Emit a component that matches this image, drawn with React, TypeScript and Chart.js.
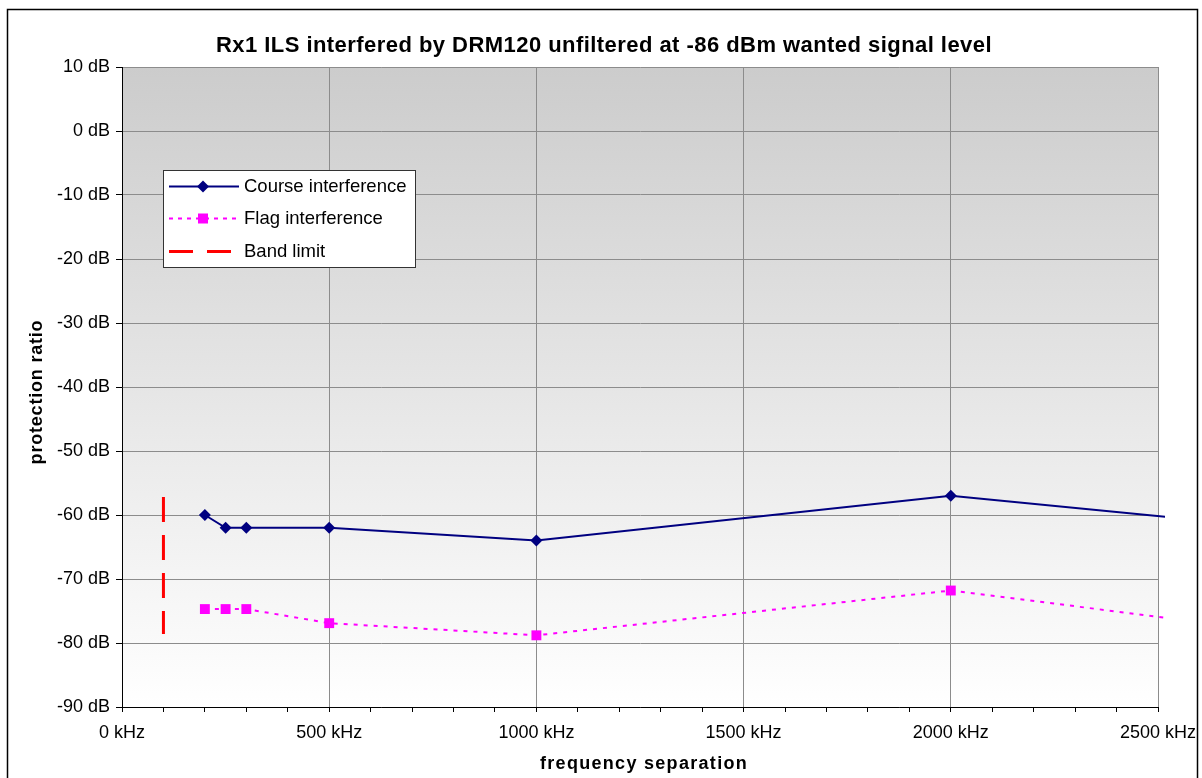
import React, { useEffect, useRef } from "react";
import { Chart, registerables } from "chart.js";

Chart.register(...registerables);

const TITLE = "Rx1 ILS interfered by DRM120 unfiltered at -86 dBm wanted signal level";
const X_TITLE = "frequency separation";
const Y_TITLE = "protection ratio";

const courseFreq = [200, 250, 300, 500, 1000, 2000, 3000];
const courseValues = [-60, -62, -62, -62, -64, -57, -63.3];

const flagFreq = [200, 250, 300, 500, 1000, 2000, 3000];
const flagValues = [-74.7, -74.7, -74.7, -76.9, -78.8, -71.8, -80];

const bandFreq = [100, 100];
const bandValues = [-57.2, -78.6];

const seriesNames = ["Course interference", "Flag interference", "Band limit"];

const X_MIN = 0;
const X_MAX = 2500;
const Y_MIN = -90;
const Y_MAX = 10;

const FONT = "'Liberation Sans', Arial, sans-serif";

const toPoints = (xs: number[], ys: number[]) => xs.map((x, i) => ({ x, y: ys[i] }));

const decorPlugin = {
  id: "decor",
  beforeDraw(chart: any) {
    const { ctx, chartArea } = chart;
    ctx.save();
    ctx.fillStyle = "#ffffff";
    ctx.fillRect(0, 0, chart.width, chart.height);
    const g = ctx.createLinearGradient(0, chartArea.top, 0, chartArea.bottom);
    g.addColorStop(0, "rgb(204,204,204)");
    g.addColorStop(1, "rgb(255,255,255)");
    ctx.fillStyle = g;
    ctx.fillRect(chartArea.left, chartArea.top, chartArea.right - chartArea.left, chartArea.bottom - chartArea.top);
    ctx.restore();
  },
  afterDraw(chart: any) {
    const { ctx } = chart;
    ctx.save();
    // outer border
    ctx.strokeStyle = "#000000";
    ctx.lineWidth = 1.5;
    ctx.strokeRect(7.5, 9.5, 1190, 800);

    // title
    ctx.fillStyle = "#000000";
    ctx.textAlign = "center";
    ctx.textBaseline = "alphabetic";
    (ctx as any).letterSpacing = "0.45px";
    ctx.font = `bold 22px ${FONT}`;
    ctx.fillText(TITLE, 604, 52);

    // x title
    (ctx as any).letterSpacing = "1.3px";
    ctx.font = `bold 18px ${FONT}`;
    ctx.fillText(X_TITLE, 644, 769);

    // y title
    (ctx as any).letterSpacing = "0.8px";
    ctx.translate(42, 392);
    ctx.rotate(-Math.PI / 2);
    ctx.fillText(Y_TITLE, 0, 0);
    ctx.setTransform(1, 0, 0, 1, 0, 0);
    (ctx as any).letterSpacing = "0px";

    // legend
    const lx = 163.5, ly = 170.5, lw = 252, lh = 97;
    ctx.fillStyle = "#ffffff";
    ctx.fillRect(lx, ly, lw, lh);
    ctx.strokeStyle = "#333333";
    ctx.lineWidth = 1;
    ctx.strokeRect(lx, ly, lw, lh);
    const rows = [186.5, 218.5, 251.5];
    const x0 = 169, x1 = 239, xm = 203;
    // course
    ctx.strokeStyle = "#000080";
    ctx.lineWidth = 2;
    ctx.beginPath();
    ctx.moveTo(x0, rows[0]);
    ctx.lineTo(x1, rows[0]);
    ctx.stroke();
    ctx.fillStyle = "#000080";
    ctx.beginPath();
    ctx.moveTo(xm - 6, rows[0]);
    ctx.lineTo(xm, rows[0] - 6);
    ctx.lineTo(xm + 6, rows[0]);
    ctx.lineTo(xm, rows[0] + 6);
    ctx.closePath();
    ctx.fill();
    // flag
    ctx.strokeStyle = "#ff00ff";
    ctx.lineWidth = 2;
    ctx.setLineDash([4, 5]);
    ctx.beginPath();
    ctx.moveTo(x0, rows[1]);
    ctx.lineTo(x1, rows[1]);
    ctx.stroke();
    ctx.setLineDash([]);
    ctx.fillStyle = "#ff00ff";
    ctx.fillRect(xm - 5, rows[1] - 5, 10, 10);
    // band
    ctx.strokeStyle = "#ff0000";
    ctx.lineWidth = 3;
    ctx.setLineDash([24, 14]);
    ctx.beginPath();
    ctx.moveTo(x0, rows[2]);
    ctx.lineTo(x1, rows[2]);
    ctx.stroke();
    ctx.setLineDash([]);
    // texts
    ctx.fillStyle = "#000000";
    ctx.textAlign = "left";
    ctx.textBaseline = "middle";
    ctx.font = `18.5px ${FONT}`;
    seriesNames.forEach((n, i) => ctx.fillText(n, 244, rows[i] + 0.5));
    ctx.restore();
  },
};

export default function App() {
  const ref = useRef<HTMLCanvasElement | null>(null);
  useEffect(() => {
    if (!ref.current) return;
    const clip = { left: 8, top: 8, right: 7, bottom: 8 };
    const chart = new Chart(ref.current, {
      type: "line",
      data: {
        datasets: [
          {
            label: seriesNames[0],
            data: toPoints(courseFreq, courseValues),
            borderColor: "#000080",
            backgroundColor: "#000080",
            borderWidth: 2,
            pointStyle: "rectRot",
            pointRadius: 6,
            pointBorderWidth: 0,
            tension: 0,
            clip,
          } as any,
          {
            label: seriesNames[1],
            data: toPoints(flagFreq, flagValues),
            borderColor: "#ff00ff",
            backgroundColor: "#ff00ff",
            borderWidth: 2,
            borderDash: [4, 6],
            pointStyle: "rect",
            pointRadius: 7,
            pointBorderWidth: 0,
            tension: 0,
            clip,
          } as any,
          {
            label: seriesNames[2],
            data: toPoints(bandFreq, bandValues),
            borderColor: "#ff0000",
            backgroundColor: "#ff0000",
            borderWidth: 3,
            borderDash: [25, 13],
            pointRadius: 0,
            tension: 0,
            clip,
          } as any,
        ],
      },
      options: {
        animation: false,
        responsive: false,
        devicePixelRatio: 1,
        layout: { padding: { left: 0, top: 67, right: 44, bottom: 0 } },
        plugins: {
          legend: { display: false },
          title: { display: false },
          tooltip: { enabled: false },
        },
        scales: {
          x: {
            type: "linear",
            min: X_MIN,
            max: X_MAX,
            afterFit: (s: any) => {
              s.height = 71;
              s.paddingLeft = 0;
              s.paddingRight = 0;
            },
            ticks: {
              stepSize: 100,
              autoSkip: false,
              maxRotation: 0,
              color: "#000000",
              font: { family: FONT, size: 18 },
              padding: 10,
              callback: (v: any) => (Number(v) % 500 === 0 ? `${v} kHz` : ""),
            },
            grid: {
              color: (c: any) => (c.tick && c.tick.value % 500 === 0 ? "#8c8c8c" : "rgba(0,0,0,0)"),
              tickColor: "#000000",
              tickLength: 5,
              lineWidth: 1,
            },
            border: { color: "#000000", width: 1 },
          },
          y: {
            type: "linear",
            min: Y_MIN,
            max: Y_MAX,
            afterFit: (s: any) => {
              s.width = 122;
              s.paddingTop = 0;
              s.paddingBottom = 0;
            },
            ticks: {
              stepSize: 10,
              color: "#000000",
              font: { family: FONT, size: 18 },
              padding: 6,
              callback: (v: any) => `${v} dB`,
            },
            grid: {
              color: "#8c8c8c",
              tickColor: "#000000",
              tickLength: 6,
              lineWidth: 1,
            },
            border: { color: "#000000", width: 1 },
          },
        },
      },
      plugins: [decorPlugin],
    });
    return () => chart.destroy();
  }, []);
  return (
    <div style={{ position: "fixed", left: 0, top: 0, width: 1202, height: 778, background: "#fff" }}>
      <canvas ref={ref} width={1202} height={778} style={{ display: "block" }} />
    </div>
  );
}
